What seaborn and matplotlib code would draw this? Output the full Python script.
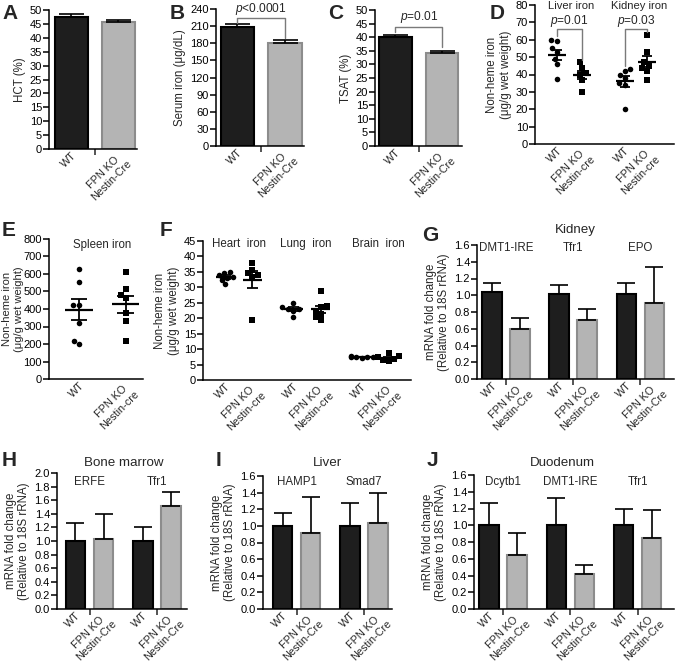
import numpy as np
import pandas as pd
import matplotlib
matplotlib.use('Agg')
import matplotlib.pyplot as plt
from matplotlib.ticker import FormatStrFormatter
import seaborn as sns

# --- DATA ---
KO_CRE = 'FPN KO\nNestin-Cre'
KO_cre = 'FPN KO\nNestin-cre'

# A-C: mean, sem for WT then KO
hct_mean, hct_sem = [47.6, 45.6], [0.8, 0.9]
serum_mean, serum_sem = [209, 181], [4.5, 5.5]
tsat_mean, tsat_sem = [40.0, 34.2], [0.9, 0.9]

# D: non-heme iron (ug/g wet weight), single animals
liver_iron_wt = [60, 59, 55, 53, 49, 46, 37.5]
liver_iron_ko = [47, 44, 41, 40, 37, 30]
kidney_iron_wt = [43, 42, 40, 38, 35, 34, 20]
kidney_iron_ko = [63, 53, 47, 45, 44, 42, 37]

# E
spleen_iron_wt = [631, 552, 421, 421, 320, 219, 202]
spleen_iron_ko = [609, 514, 482, 463, 375, 331, 219]

# F
heart_iron_wt = [35, 34.5, 34, 33.5, 33, 32.5, 31]
heart_iron_ko = [38, 35.5, 34.5, 34, 33.5, 19.5]
lung_iron_wt = [25, 23.5, 23, 23, 22.5, 20.3]
lung_iron_ko = [28.7, 24, 23.5, 22.5, 21.5, 20.5, 19.3]
brain_iron_wt = [7.8, 7.6, 7.5, 7.4, 7.3, 7.2]
brain_iron_ko = [8.6, 7.8, 7.3, 6.8, 6.5, 6.3]

# G-J: mRNA fold change (relative to 18S rRNA)
kidney_genes = ['DMT1-IRE', 'Tfr1', 'EPO']
kidney_wt_mean, kidney_wt_sem = [1.04, 1.01, 1.01], [0.11, 0.11, 0.14]
kidney_ko_mean, kidney_ko_sem = [0.60, 0.71, 0.91], [0.13, 0.12, 0.43]

marrow_genes = ['ERFE', 'Tfr1']
marrow_wt_mean, marrow_wt_sem = [1.0, 1.0], [0.26, 0.21]
marrow_ko_mean, marrow_ko_sem = [1.03, 1.52], [0.36, 0.20]

liver_genes = ['HAMP1', 'Smad7']
liver_wt_mean, liver_wt_sem = [1.0, 1.0], [0.15, 0.27]
liver_ko_mean, liver_ko_sem = [0.92, 1.04], [0.43, 0.36]

duod_genes = ['Dcytb1', 'DMT1-IRE', 'Tfr1']
duod_wt_mean, duod_wt_sem = [1.0, 1.0, 1.0], [0.26, 0.33, 0.20]
duod_ko_mean, duod_ko_sem = [0.64, 0.42, 0.85], [0.27, 0.10, 0.33]

# --- STYLE ---
W, H = 675, 663
WT_FILL, KO_FILL, KO_EDGE = '#1e1e1e', '#b4b4b4', '#8c8c8c'
BRACKET = '#7a7a7a'
GAP = 2.4  # spacing between gene pairs (in bar units)
TICK_FS, XTICK_FS, LABEL_FS, SUB_FS, TITLE_FS = 8, 7.8, 8.3, 8.3, 9.6

sns.set_style('ticks')
plt.rcParams['font.family'] = ['Liberation Sans', 'DejaVu Sans']
plt.rcParams['mathtext.fontset'] = 'custom'
plt.rcParams['mathtext.it'] = 'Liberation Sans:italic'
plt.rcParams['mathtext.rm'] = 'Liberation Sans'
plt.rcParams['axes.linewidth'] = 1.1
plt.rcParams['axes.edgecolor'] = 'black'

fig = plt.figure(figsize=(W / 100, H / 100), dpi=100)


def px_axes(left, top, right, bottom):
    return fig.add_axes([left / W, 1 - bottom / H, (right - left) / W, (bottom - top) / H])


def style_axes(ax, ymax, ystep, ylabel, fmt=None, labelpad=3, label_fs=LABEL_FS):
    sns.despine(ax=ax)
    ax.set_ylim(0, ymax)
    ax.set_yticks(np.arange(0, ymax + ystep / 2, ystep))
    if fmt:
        ax.yaxis.set_major_formatter(FormatStrFormatter(fmt))
    ax.tick_params(axis='y', length=4, width=1.1, labelsize=TICK_FS, pad=1, colors='black')
    ax.tick_params(axis='x', which='major', length=0, labelsize=XTICK_FS, pad=1)
    ax.tick_params(axis='x', which='minor', length=4, width=1.1)
    ax.set_xlabel('')
    ax.set_ylabel(ylabel, fontsize=label_fs, labelpad=labelpad)


def set_xlabels(ax, pos, labels):
    ax.set_xticks(pos)
    ax.set_xticklabels(labels, rotation=45, ha='right', rotation_mode='anchor',
                       multialignment='center')


def bar_panel(ax, wt_mean, wt_sem, ko_mean, ko_sem, ko_label, cap, xlim):
    n = len(wt_mean)
    base = np.arange(n) * GAP
    pos = np.concatenate([base, base + 1])
    df = pd.DataFrame({'pos': pos,
                       'value': list(wt_mean) + list(ko_mean),
                       'sem': list(wt_sem) + list(ko_sem),
                       'geno': ['WT'] * n + ['KO'] * n})
    sns.barplot(data=df, x='pos', y='value', hue='geno', hue_order=['WT', 'KO'],
                palette={'WT': WT_FILL, 'KO': KO_FILL}, native_scale=True, dodge=False,
                width=0.7, errorbar=None, legend=False, linewidth=1.5, orient='x', ax=ax)
    for patch in ax.patches:
        fc = patch.get_facecolor()
        patch.set_edgecolor('black' if fc[0] < 0.5 else KO_EDGE)
    ax.errorbar(df['pos'], df['value'], yerr=[np.zeros(len(df)), df['sem']], fmt='none',
                ecolor='black', elinewidth=1.2, capsize=cap, capthick=1.2, zorder=3)
    ax.set_xlim(*xlim)
    order = np.argsort(pos)
    set_xlabels(ax, pos[order], (['WT', ko_label] * n))
    ax.set_xticks(base + 0.5, minor=True)
    return base + 0.5


def scatter_panel(ax, wt_groups, ko_groups, wt_pos, ko_pos, xlim, mean_hw, cap_hw):
    groups = [(p, vals, 'o') for p, vals in zip(wt_pos, wt_groups)]
    groups += [(p, vals, 's') for p, vals in zip(ko_pos, ko_groups)]
    for p, vals, mk in groups:
        # one swarm per group keeps the spread to 0.8 position units
        df = pd.DataFrame({'pos': [p] * len(vals), 'value': vals})
        sns.swarmplot(data=df, x='pos', y='value', native_scale=True, orient='x',
                      marker=mk, color='black', size=4.0, linewidth=0, ax=ax)
        m = np.mean(vals)
        s = np.std(vals, ddof=1) / np.sqrt(len(vals))
        ax.hlines(m, p - mean_hw, p + mean_hw, color='black', lw=1.6, zorder=4)
        ax.vlines(p, m - s, m + s, color='black', lw=1.3, zorder=4)
        ax.hlines([m - s, m + s], p - cap_hw, p + cap_hw, color='black', lw=1.3, zorder=4)
    ax.set_xlim(*xlim)


def bracket(ax, x1, x2, h, y1, y2, label, lift=0.01):
    ax.plot([x1, x1, x2, x2], [y1, h, h, y2], color=BRACKET, lw=1.0, zorder=5)
    ax.text((x1 + x2) / 2, h + lift * ax.get_ylim()[1], label, ha='center', va='bottom',
            fontsize=8.6)


def panel_letter(x, y, s):
    fig.text(x / W, 1 - y / H, s, fontsize=15, fontweight='bold', va='top', ha='left')


# --- A ---
ax = px_axes(49, 10, 137, 149)
bar_panel(ax, hct_mean[:1], hct_sem[:1], hct_mean[1:], hct_sem[1:], KO_CRE, 9, (-0.47, 1.40))
style_axes(ax, 50, 5, 'HCT (%)')

# --- B ---
ax = px_axes(216, 9, 304, 146)
bar_panel(ax, serum_mean[:1], serum_sem[:1], serum_mean[1:], serum_sem[1:], KO_CRE, 9, (-0.45, 1.40))
style_axes(ax, 240, 30, 'Serum iron (μg/dL)')
bracket(ax, 0, 1, 223.5, 215.5, 190, '$p$<0.0001')

# --- C ---
ax = px_axes(375, 10, 462, 146)
bar_panel(ax, tsat_mean[:1], tsat_sem[:1], tsat_mean[1:], tsat_sem[1:], KO_CRE, 9, (-0.44, 1.43))
style_axes(ax, 50, 5, 'TSAT (%)')
bracket(ax, 0, 1, 43.9, 41.9, 36.3, '$p$=0.01')

# --- D ---
ax = px_axes(535, 5, 674, 144)
d_wt_pos, d_ko_pos = [0, 2.7], [1, 3.6]
scatter_panel(ax, [liver_iron_wt, kidney_iron_wt], [liver_iron_ko, kidney_iron_ko],
              d_wt_pos, d_ko_pos, (-0.88, 4.68), 0.36, 0.2)
style_axes(ax, 80, 10, 'Non-heme iron\n(μg/g wet weight)')
set_xlabels(ax, [0, 1, 2.7, 3.6], ['WT', KO_cre, 'WT', KO_cre])
for x, t in zip([0.55, 3.3], ['Liver iron', 'Kidney iron']):
    ax.text(x, 79.6, t, ha='center', va='center', fontsize=8.1)
bracket(ax, 0, 1, 66, 62, 48.5, '$p$=0.01', lift=0.0)
bracket(ax, 2.7, 3.6, 66, 45, 64.5, '$p$=0.03', lift=0.0)

# --- E ---
ax = px_axes(49, 239, 143, 379)
scatter_panel(ax, [spleen_iron_wt], [spleen_iron_ko], [0], [1], (-0.645, 1.376), 0.3, 0.18)
style_axes(ax, 800, 100, 'Non-heme iron\n(μg/g wet weight)', labelpad=0, label_fs=8.0)
set_xlabels(ax, [0, 1], ['WT', KO_cre])
ax.text(0.5, 766, 'Spleen iron', ha='center', va='center', fontsize=SUB_FS)

# --- F ---
ax = px_axes(203, 241, 411, 380)
f_wt_pos, f_ko_pos = [0, 2.5, 5], [1, 3.5, 6]
scatter_panel(ax, [heart_iron_wt, lung_iron_wt, brain_iron_wt],
              [heart_iron_ko, lung_iron_ko, brain_iron_ko],
              f_wt_pos, f_ko_pos, (-0.81, 6.81), 0.34, 0.2)
style_axes(ax, 45, 5, 'Non-heme iron\n(μg/g wet weight)')
set_xlabels(ax, [0, 1, 2.5, 3.5, 5, 6], ['WT', KO_cre] * 3)
for x, t in zip([0.5, 2.95, 5.6], ['Heart  iron', 'Lung  iron', 'Brain  iron']):
    ax.text(x, 43.9, t, ha='center', va='center', fontsize=SUB_FS)

MRNA_LABEL = 'mRNA fold change\n(Relative to 18S rRNA)'

# --- G ---
ax = px_axes(477, 245, 674, 379)
centers = bar_panel(ax, kidney_wt_mean, kidney_wt_sem, kidney_ko_mean, kidney_ko_sem,
                    KO_CRE, 6.5, (-0.54, 6.5))
style_axes(ax, 1.6, 0.2, MRNA_LABEL, '%.1f')
for c, g in zip(centers, kidney_genes):
    ax.text(c, 1.564, g, ha='center', va='center', fontsize=SUB_FS)
ax.text(0.5, 1.0 + 15 / 134, 'Kidney', transform=ax.transAxes, ha='center', va='center', fontsize=TITLE_FS)

# --- H ---
ax = px_axes(57, 473, 187, 609)
centers = bar_panel(ax, marrow_wt_mean, marrow_wt_sem, marrow_ko_mean, marrow_ko_sem,
                    KO_CRE, 6.5, (-0.66, 3.98))
style_axes(ax, 2.0, 0.2, MRNA_LABEL, '%.1f')
for c, g in zip(centers, marrow_genes):
    ax.text(c, 1.868, g, ha='center', va='center', fontsize=SUB_FS)
ax.text(0.51, 1.0 + 10 / 136, 'Bone marrow', transform=ax.transAxes, ha='center', va='center', fontsize=TITLE_FS)

# --- I ---
ax = px_axes(263, 476, 392, 609)
centers = bar_panel(ax, liver_wt_mean, liver_wt_sem, liver_ko_mean, liver_ko_sem,
                    KO_CRE, 6.5, (-0.70, 3.9))
style_axes(ax, 1.6, 0.2, MRNA_LABEL, '%.1f')
for c, g in zip(centers, liver_genes):
    ax.text(c, 1.528, g, ha='center', va='center', fontsize=SUB_FS)
ax.text(0.5, 1.0 + 13 / 133, 'Liver', transform=ax.transAxes, ha='center', va='center', fontsize=TITLE_FS)

# --- J ---
ax = px_axes(474, 475, 674, 609)
centers = bar_panel(ax, duod_wt_mean, duod_wt_sem, duod_ko_mean, duod_ko_sem,
                    KO_CRE, 6.5, (-0.54, 6.6))
style_axes(ax, 1.6, 0.2, MRNA_LABEL, '%.1f')
for c, g in zip(centers, duod_genes):
    ax.text(c, 1.516, g, ha='center', va='center', fontsize=SUB_FS)
ax.text(0.44, 1.0 + 12 / 134, 'Duodenum', transform=ax.transAxes, ha='center', va='center', fontsize=TITLE_FS)

# --- panel letters ---
for x, y, s in [(2, 4, 'A'), (170, 4, 'B'), (328, 4, 'C'), (490, 4, 'D'),
                (2, 221, 'E'), (160, 221, 'F'), (422, 226, 'G'),
                (2, 451, 'H'), (216, 451, 'I'), (427, 451, 'J')]:
    panel_letter(x, y, s)

fig.savefig('out.png', dpi=100)
print('saved out.png')
